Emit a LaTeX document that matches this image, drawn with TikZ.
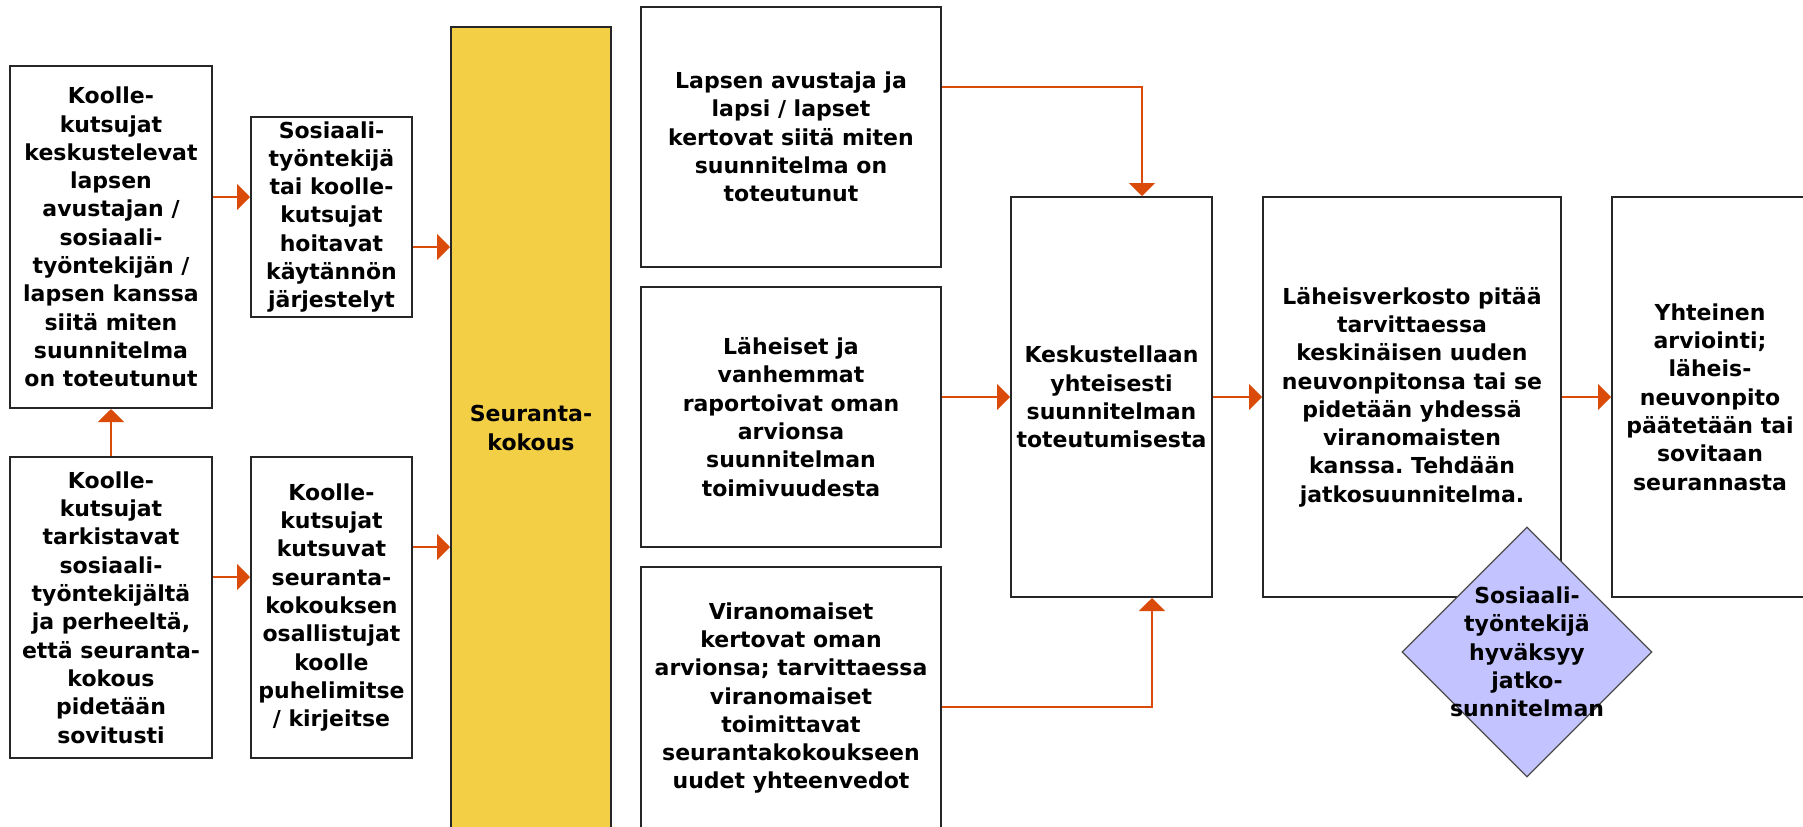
\documentclass[tikz,border=0pt]{standalone}
\usepackage{fontspec}
\setmainfont{DejaVu Sans}
\frenchspacing
\usetikzlibrary{arrows.meta,shapes.geometric}
\definecolor{arrowred}{RGB}{218,75,10}
\definecolor{meetyellow}{RGB}{243,207,70}
\definecolor{lilac}{RGB}{195,195,255}
\begin{document}
\begin{tikzpicture}[x=0.5pt,y=-0.5pt,task/.style={draw=black!85,line width=1pt,fill=white,align=center,inner sep=0pt,font=\fontsize{11}{14.15}\selectfont\bfseries},meeting/.style={task,fill=meetyellow},decision/.style={shape=diamond,draw=black!70,line width=0.6pt,fill=lilac,inner sep=0pt,minimum width=125pt,minimum height=125pt},leadsto/.style={draw=arrowred,line width=1pt,-{Triangle[length=6.5pt,width=13pt]}}]
\useasboundingbox (0,0) rectangle (1803,826);
\clip (0,0) rectangle (1803,826);
\fill[white] (0,0) rectangle (1803,826);
\node[task,minimum width=101pt,minimum height=171pt] (A) at (111,237) {Koolle-\\kutsujat\\keskustelevat\\lapsen\\avustajan /\\sosiaali-\\työntekijän /\\lapsen kanssa\\siitä miten\\suunnitelma\\on toteutunut};
\node[task,minimum width=80.5pt,minimum height=100pt] (B) at (331.5,217) {Sosiaali-\\työntekijä\\tai koolle-\\kutsujat\\hoitavat\\käytännön\\järjestelyt};
\node[task,minimum width=101pt,minimum height=150.5pt] (C) at (111,607.5) {Koolle-\\kutsujat\\tarkistavat\\sosiaali-\\työntekijältä\\ja perheeltä,\\että seuranta-\\kokous\\pidetään\\sovitusti};
\node[task,minimum width=80.5pt,minimum height=150.5pt] (D) at (331.5,607.5) {Koolle-\\kutsujat\\kutsuvat\\seuranta-\\kokouksen\\osallistujat\\koolle\\puhelimitse\\/ kirjeitse};
\node[meeting,minimum width=80pt,minimum height=401pt] (S) at (531,428) {Seuranta-\\kokous};
\node[task,minimum width=150pt,minimum height=130pt] (E) at (791,137) {Lapsen avustaja ja\\lapsi / lapset\\kertovat siitä miten\\suunnitelma on\\toteutunut};
\node[task,minimum width=150pt,minimum height=130pt] (F) at (791,417) {Läheiset ja\\vanhemmat\\raportoivat oman\\arvionsa\\suunnitelman\\toimivuudesta};
\node[task,minimum width=150pt,minimum height=131pt] (G) at (791,698) {Viranomaiset\\kertovat oman\\arvionsa; tarvittaessa\\viranomaiset\\toimittavat\\seurantakokoukseen\\uudet yhteenvedot};
\node[task,minimum width=100.5pt,minimum height=200pt] (H) at (1111.5,397) {Keskustellaan\\yhteisesti\\suunnitelman\\toteutumisesta};
\node[task,minimum width=149pt,minimum height=200pt] (I) at (1412,397) {Läheisverkosto pitää\\tarvittaessa\\keskinäisen uuden\\neuvonpitonsa tai se\\pidetään yhdessä\\viranomaisten\\kanssa. Tehdään\\jatkosuunnitelma.};
\node[task,minimum width=98pt,minimum height=200pt] (J) at (1710,397) {Yhteinen\\arviointi;\\läheis-\\neuvonpito\\päätetään tai\\sovitaan\\seurannasta};
\node[decision] (K) at (1527,652) {};
\node[align=center,inner sep=0pt,font=\fontsize{11}{14.15}\selectfont\bfseries] (Klbl) at (K) {Sosiaali-\\työntekijä\\hyväksyy\\jatko-\\sunnitelman};
\coordinate (eh) at (1142,87);
\coordinate (gh) at (1152,707);
\draw[leadsto] (C) -- (A);
\draw[leadsto] (A.east |- 0,197) -- (B.west |- 0,197);
\draw[leadsto] (B.east |- 0,247) -- (S.west |- 0,247);
\draw[leadsto] (C.east |- 0,577) -- (D.west |- 0,577);
\draw[leadsto] (D.east |- 0,547) -- (S.west |- 0,547);
\draw[leadsto] (E.east |- eh) -| (H.north -| eh);
\draw[leadsto] (F.east |- H) -- (H.west);
\draw[leadsto] (G.east |- gh) -| (H.south -| gh);
\draw[leadsto] (H) -- (I);
\draw[leadsto] (I) -- (J);
\end{tikzpicture}
\end{document}
